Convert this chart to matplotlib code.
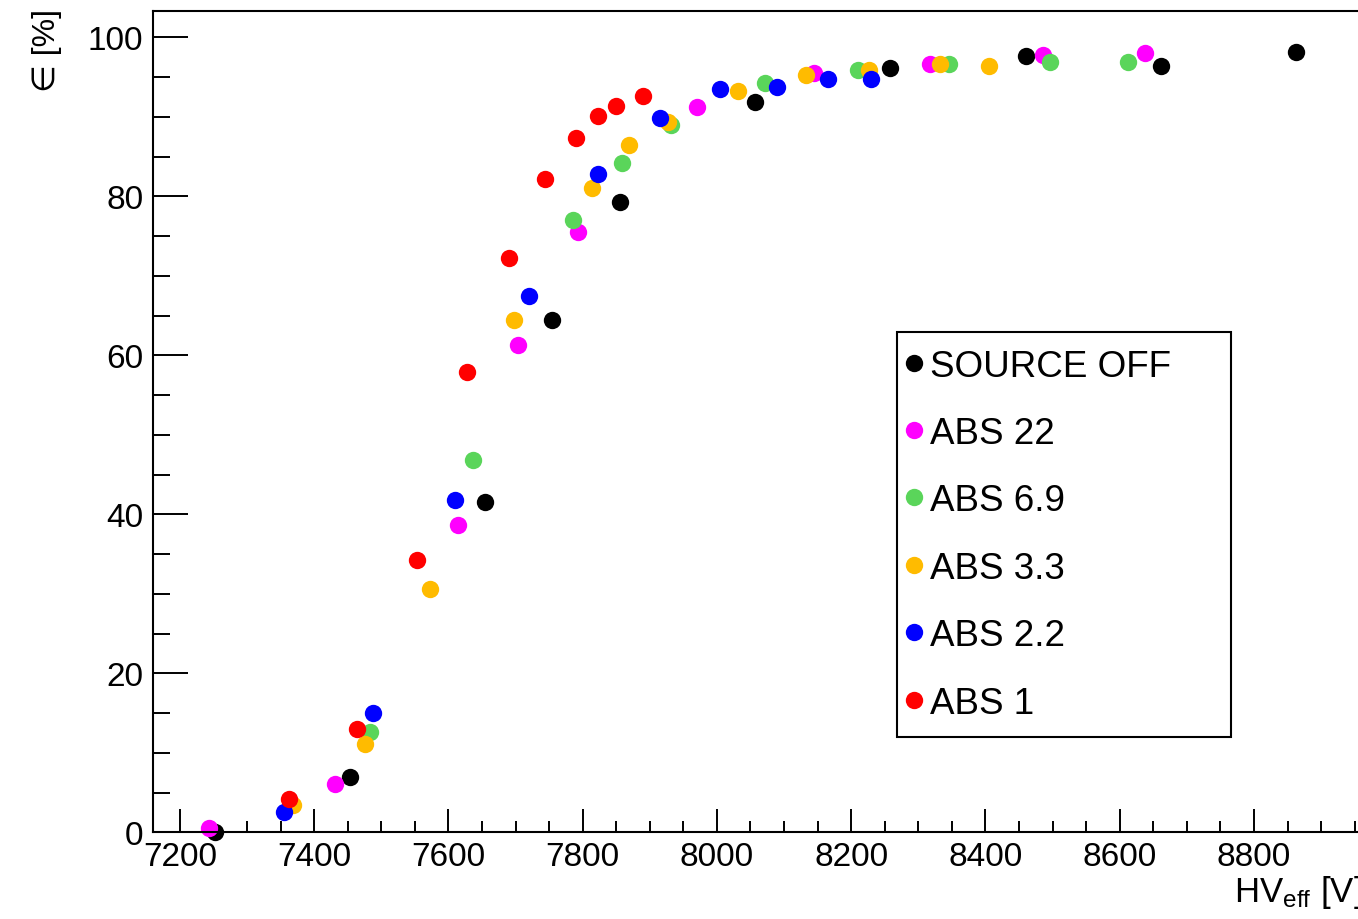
import matplotlib
matplotlib.use("Agg")
import matplotlib.pyplot as plt
from matplotlib.ticker import MultipleLocator

plt.rcParams['font.family'] = ['Liberation Sans', 'DejaVu Sans']
plt.rcParams['mathtext.fontset'] = 'custom'
plt.rcParams['mathtext.rm'] = 'Liberation Sans'
plt.rcParams['mathtext.it'] = 'Liberation Sans:italic'

# efficiency scans, HV_eff [V] vs efficiency [%]
src_off_hv = [7252, 7453, 7655, 7755, 7856, 8057, 8258, 8460, 8661, 8862]
src_off_eff = [0.0, 7.0, 41.5, 64.4, 79.3, 91.9, 96.1, 97.6, 96.4, 98.2]

abs22_hv = [7243, 7431, 7614, 7704, 7793, 7970, 8145, 8317, 8486, 8638]
abs22_eff = [0.5, 6.1, 38.7, 61.3, 75.5, 91.2, 95.5, 96.7, 97.8, 98.0]

abs69_hv = [7483, 7637, 7786, 7859, 7932, 8072, 8210, 8345, 8496, 8613]
abs69_eff = [12.6, 46.8, 77.0, 84.2, 89.0, 94.3, 95.9, 96.7, 96.9, 96.9]

abs33_hv = [7369, 7476, 7573, 7697, 7814, 7869, 7927, 8031, 8132, 8227, 8332, 8406]
abs33_eff = [3.5, 11.1, 30.6, 64.5, 81.0, 86.5, 89.4, 93.3, 95.2, 95.9, 96.7, 96.4]

abs22b_hv = [7355, 7488, 7610, 7720, 7823, 7915, 8005, 8089, 8166, 8230]
abs22b_eff = [2.5, 15.0, 41.8, 67.5, 82.8, 89.9, 93.5, 93.7, 94.8, 94.7]

abs1_hv = [7362, 7464, 7553, 7628, 7690, 7744, 7790, 7823, 7850, 7890]
abs1_eff = [4.2, 13.0, 34.3, 57.9, 72.2, 82.2, 87.3, 90.1, 91.3, 92.6]

labels = ["SOURCE OFF", "ABS 22", "ABS 6.9", "ABS 3.3", "ABS 2.2", "ABS 1"]
colors = ["black", "#ff00ff", "#5ad55a", "#ffbb00", "#0000ff", "#ff0000"]
series = [(src_off_hv, src_off_eff), (abs22_hv, abs22_eff), (abs69_hv, abs69_eff),
          (abs33_hv, abs33_eff), (abs22b_hv, abs22b_eff), (abs1_hv, abs1_eff)]

fig = plt.figure(figsize=(13.58, 9.2), dpi=100)
ax = fig.add_axes([0.1127, 0.0942, 0.8873, 0.8931])

for (hv, eff), lab, col in zip(series, labels, colors):
    ax.plot(hv, eff, 'o', color=col, markersize=12.5, markeredgewidth=0, label=lab, clip_on=False)

ax.set_xlim(7160, 8955)
ax.set_ylim(0, 103.35)
ax.xaxis.set_major_locator(MultipleLocator(200))
ax.xaxis.set_minor_locator(MultipleLocator(50))
ax.yaxis.set_major_locator(MultipleLocator(20))
ax.yaxis.set_minor_locator(MultipleLocator(5))
ax.tick_params(axis='x', which='major', direction='in', length=16.5, width=1.4, labelsize=24, pad=6)
ax.tick_params(axis='x', which='minor', direction='in', length=8, width=1.4)
ax.tick_params(axis='y', which='major', direction='in', length=25, width=1.4, labelsize=24, pad=7)
ax.tick_params(axis='y', which='minor', direction='in', length=12.5, width=1.4)
for s in ['left', 'bottom', 'top']:
    ax.spines[s].set_linewidth(1.5)
ax.spines['right'].set_visible(False)

fig.text(47 / 1358, 1 - 9 / 920, "\u2208 [%]", rotation=90, ha='center', va='top', fontsize=23)
fig.text(1.003, 1 - 901.7 / 920, r"HV$_{\mathrm{eff}}$ [V]", ha='right', va='baseline', fontsize=25)

leg = ax.legend(loc='upper left', bbox_to_anchor=(897 / 1358, 1 - 733 / 920, 334 / 1358, 400 / 920),
                bbox_transform=fig.transFigure, mode='expand', borderaxespad=0,
                fontsize=26.5, handlelength=0, handletextpad=0.45, borderpad=0.45,
                labelspacing=0.88, fancybox=False, framealpha=1, edgecolor='black')
leg.get_frame().set_linewidth(1.5)

fig.savefig("out.png", dpi=100)
